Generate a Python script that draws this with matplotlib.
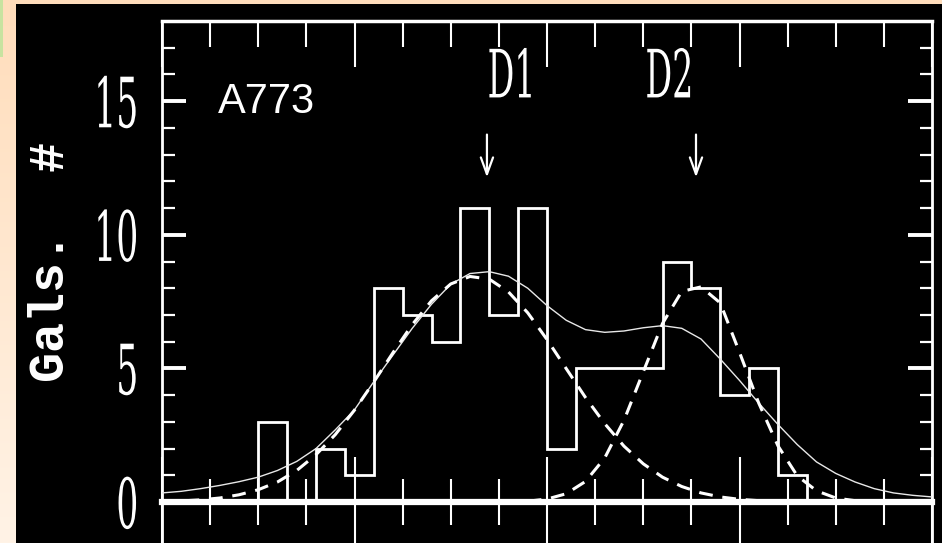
import numpy as np
import matplotlib
matplotlib.use("Agg")
import matplotlib.pyplot as plt
from matplotlib.patches import Rectangle
from matplotlib.ticker import FixedLocator, MultipleLocator
from matplotlib.patheffects import AbstractPathEffect
from matplotlib.transforms import Affine2D
from matplotlib.colors import LinearSegmentedColormap

# ---------------- data (velocity in km/s, counts) ----------------
bin_edges = [500, 650, 800, 950, 1100, 1250, 1400, 1550, 1700, 1850, 2000,
             2150, 2300, 2450, 2600, 2750, 2900, 3050, 3200, 3350]
counts = [3, 0, 2, 1, 8, 7, 6, 11, 7, 11, 2, 5, 5, 5, 9, 8, 4, 5, 1]

total_x = np.arange(0, 4001, 100)
total_fit = [0.34, 0.40, 0.50, 0.62, 0.76, 0.93, 1.18, 1.52, 2.0, 2.7, 3.45,
             4.5, 5.5, 6.5, 7.4, 8.15, 8.55, 8.62, 8.45, 8.0, 7.35,
             6.8, 6.45, 6.35, 6.4, 6.52, 6.6, 6.5, 6.1, 5.35, 4.55,
             3.7, 2.9, 2.15, 1.5, 1.07, 0.75, 0.5, 0.34, 0.25, 0.19]

d1_x = np.arange(0, 3201, 100)
d1_fit = [0.02, 0.04, 0.08, 0.15, 0.27, 0.46, 0.75, 1.18, 1.77, 2.52, 3.44,
          4.49, 5.59, 6.64, 7.53, 8.16, 8.44, 8.34, 7.86, 7.08, 6.08,
          4.99, 3.91, 2.93, 2.09, 1.43, 0.93, 0.58, 0.34, 0.19, 0.10,
          0.05, 0.03]

d2_x = np.arange(1900, 3601, 100)
d2_fit = [0.03, 0.11, 0.31, 0.77, 1.65, 3.06, 4.87, 6.68, 7.88, 8.05,
          7.45, 5.6, 3.7, 2.1, 0.98, 0.42, 0.15, 0.05]

group_labels = ["D1", "D2"]
group_label_x = [1816, 2636]
group_arrow_x = [1688, 2774]
cluster_name = "A773"
y_ticks = [0, 5, 10, 15]
y_tick_labels = ["0", "5", "10", "15"]
x_major = [0, 1000, 2000, 3000, 4000]
y_label = "Gals.  #"


# ---------------- helper: tall (vertically stretched) glyphs ----------------
class Stretch(AbstractPathEffect):
    def __init__(self, sx=1.0, sy=2.0, vanchor="center"):
        super().__init__()
        self.sx, self.sy, self.vanchor = sx, sy, vanchor

    def draw_path(self, renderer, gc, tpath, affine, rgbFace=None):
        ext = tpath.get_extents()
        ax0 = (ext.x0 + ext.x1) / 2
        ay0 = ext.y0 if self.vanchor == "bottom" else (ext.y0 + ext.y1) / 2
        tr = (Affine2D().translate(-ax0, -ay0).scale(self.sx, self.sy)
              .translate(ax0, ay0) + affine)
        renderer.draw_path(gc, tpath, tr, rgbFace)


W, H = 942, 543
fig = plt.figure(figsize=(W / 100, H / 100), dpi=100)
fig.patch.set_facecolor("#FFDDBB")

# left light gradient strip + small green mark
grad_ax = fig.add_axes([0, 0, 16 / W, 1])
grad_ax.set_zorder(-5)
grad = np.linspace(0, 1, 256).reshape(-1, 1)
cmap = LinearSegmentedColormap.from_list("pe", ["#FFDDBB", "#FFF3E6"])
grad_ax.imshow(grad, aspect="auto", cmap=cmap, extent=[0, 1, 0, 1], origin="upper")
grad_ax.set_axis_off()
fig.patches.append(Rectangle((0, 1 - 57 / H), 2.5 / W, 57 / H,
                             transform=fig.transFigure, facecolor="#C8E3A0",
                             edgecolor="none", zorder=-1))
# black panel
fig.patches.append(Rectangle((16 / W, 0), 1 - 16 / W, (H - 4) / H,
                             transform=fig.transFigure, facecolor="black",
                             edgecolor="none", zorder=-2))

ax = fig.add_axes([162 / W, 0, (932 - 162) / W, (H - 21) / H])
ax.set_facecolor("black")
ax.set_xlim(0, 4000)
ax.set_ylim(-1.534, 18.0)

# histogram
ax.stairs(counts, bin_edges, baseline=0, color="white", lw=2.0, zorder=3)
# fits
ax.plot(total_x, total_fit, color="#E8E8E8", lw=1.0, zorder=4)
ax.plot(d1_x, d1_fit, color="white", lw=2.2, dashes=(4.5, 3.2), zorder=4)
ax.plot(d2_x, d2_fit, color="white", lw=2.2, dashes=(4.5, 3.2), zorder=4)

# spines
for s in ["left", "right"]:
    ax.spines[s].set_color("white")
    ax.spines[s].set_linewidth(2)
ax.spines["top"].set_visible(False)
ax.spines["bottom"].set_position(("data", 0))
ax.spines["bottom"].set_color("white")
ax.spines["bottom"].set_linewidth(4.5)

# x ticks on the zero line (inout)
ax.xaxis.set_major_locator(FixedLocator(x_major))
ax.xaxis.set_minor_locator(MultipleLocator(250))
ax.tick_params(axis="x", which="major", direction="inout", length=65, width=1.5,
               color="white", labelbottom=False, top=False)
ax.tick_params(axis="x", which="minor", direction="inout", length=33, width=1.5,
               color="white", top=False)

# top x axis ticks
secax = ax.secondary_xaxis("top")
secax.xaxis.set_major_locator(FixedLocator(x_major))
secax.xaxis.set_minor_locator(MultipleLocator(250))
secax.tick_params(which="major", direction="in", length=33, width=1.5,
                  color="white", labeltop=False)
secax.tick_params(which="minor", direction="in", length=19, width=1.5,
                  color="white")
secax.spines["top"].set_color("white")
secax.spines["top"].set_linewidth(2.5)

# y ticks
ax.yaxis.set_major_locator(FixedLocator(y_ticks))
ax.yaxis.set_minor_locator(FixedLocator(list(range(1, 18))))
ax.set_yticklabels(y_tick_labels)
ax.tick_params(axis="y", which="major", direction="in", length=17, width=2.8,
               left=True, right=True, color="white", labelcolor="white",
               labelsize=25, pad=17, labelfontfamily="DejaVu Serif")
ax.tick_params(axis="y", which="minor", direction="in", length=9, width=1.6,
               left=True, right=True, color="white")
for lab in ax.get_yticklabels():
    lab.set_path_effects([Stretch(sx=1.0, sy=2.0, vanchor="center")])

# y label
fig.text(64 / W, 1 - 262 / H, y_label, rotation=90, rotation_mode="anchor",
         ha="center", va="baseline", color="white", fontsize=36,
         fontweight="bold", family="Liberation Mono")

# annotations
ax.text(291, 14.56, cluster_name, color="white", fontsize=30,
        family="Liberation Sans", ha="left", va="baseline", zorder=5)
for lbl, lx, axx in zip(group_labels, group_label_x, group_arrow_x):
    t = ax.text(lx, 15.14, lbl, color="white", fontsize=24, family="DejaVu Serif",
                ha="center", va="baseline", zorder=5)
    t.set_path_effects([Stretch(sx=1.0, sy=2.0, vanchor="bottom")])
    ax.annotate("", xy=(axx, 12.15), xytext=(axx, 13.75),
                arrowprops=dict(arrowstyle="->,head_length=0.6,head_width=0.22",
                                color="white", lw=1.6, mutation_scale=20,
                                shrinkA=0, shrinkB=0), zorder=5)

fig.savefig("out.png", dpi=100, facecolor=fig.get_facecolor())
